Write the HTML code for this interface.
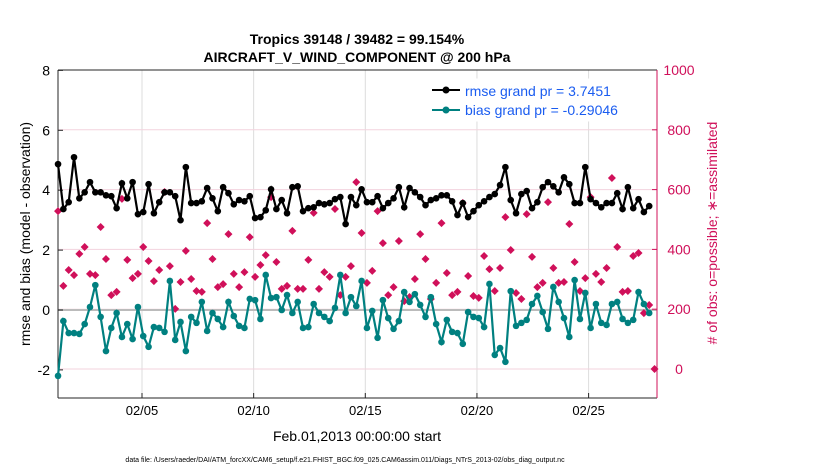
<!DOCTYPE html>
<html><head><meta charset="utf-8"><style>
body{margin:0;background:#fff;}
svg text{font-family:"Liberation Sans",sans-serif;}
</style></head><body>
<svg id="chart" width="830" height="470" viewBox="0 0 830 470" xmlns="http://www.w3.org/2000/svg">
<rect width="830" height="470" fill="#fff"/>
<text x="357" y="44" text-anchor="middle" font-size="14" font-weight="bold">Tropics 39148 / 39482 = 99.154%</text>
<text x="357" y="62" text-anchor="middle" font-size="14" font-weight="bold">AIRCRAFT_V_WIND_COMPONENT @ 200 hPa</text>
<g id="grid"></g><g id="axes"></g><g id="marks"></g>
<text x="357" y="441" text-anchor="middle" font-size="14">Feb.01,2013 00:00:00 start</text>
<text transform="translate(30,234) rotate(-90)" text-anchor="middle" font-size="14">rmse and bias (model - observation)</text>
<text transform="translate(717,233) rotate(-90)" text-anchor="middle" font-size="14" fill="#d0105a"># of obs: o=possible; ∗=assimilated</text>
<text x="345" y="462" text-anchor="middle" font-size="7">data file: /Users/raeder/DAI/ATM_forcXX/CAM6_setup/f.e21.FHIST_BGC.f09_025.CAM6assim.011/Diags_NTrS_2013-02/obs_diag_output.nc</text>
<g>
<rect x="426" y="79" width="220" height="42" fill="#fff" stroke="#fff"/>
<line x1="432" y1="90" x2="460" y2="90" stroke="#000" stroke-width="2"/><circle cx="446" cy="90" r="3.5" fill="#000"/>
<text x="465" y="96" font-size="14" fill="#1a5cf0">rmse grand pr = 3.7451</text>
<line x1="432" y1="110" x2="460" y2="110" stroke="#008080" stroke-width="2"/><circle cx="446" cy="110" r="3.5" fill="#008080"/>
<text x="465" y="115" font-size="14" fill="#1a5cf0">bias grand pr = -0.29046</text>
</g>
</svg>
<script>
const rmse=[4.87,3.37,3.6,5.1,3.73,3.93,4.27,3.93,3.93,3.83,3.8,3.4,4.23,3.73,4.27,3.2,3.27,4.2,3.23,3.6,3.93,3.93,3.8,3.0,4.77,3.57,3.57,3.63,4.07,3.73,3.3,4.1,3.9,3.53,3.67,3.63,3.8,3.07,3.1,
3.33,4.03,3.37,3.67,3.23,4.1,4.13,3.3,3.4,3.43,3.57,3.53,3.57,3.7,3.77,2.87,3.77,3.5,4.03,3.6,3.6,3.8,3.4,3.57,3.73,4.1,3.43,4.07,3.93,3.77,3.5,3.67,3.73,3.83,3.83,3.63,3.17,3.57,
3.1,3.3,3.5,3.63,3.77,3.87,4.17,4.77,3.67,3.23,3.87,3.97,3.4,3.6,4.1,4.27,4.13,3.93,4.43,4.2,3.57,3.57,4.77,3.7,3.57,3.43,3.57,3.57,3.9,3.37,4.1,3.4,3.7,3.27,3.47];
const bias=[-2.2,-0.37,-0.77,-0.77,-0.8,-0.47,0.1,0.83,-0.23,-1.37,-0.6,-0.1,-0.9,-0.47,-0.97,0.1,-0.87,-1.23,-0.57,-0.6,-0.73,0.97,-1.0,-0.4,-1.37,-0.23,-0.43,0.27,-0.7,-0.1,-0.3,-0.57,0.27,-0.2,-0.53,-0.6,0.37,0.33,-0.3,
1.17,0.4,0.43,0,0.5,-0.1,0.27,-0.6,-0.57,0.2,-0.1,-0.23,-0.37,0.07,1.17,-0.1,0.43,0.13,0.97,-0.6,-0.03,-0.93,0.33,-0.27,-0.63,-0.37,0.6,0.27,0.53,0.17,-0.23,0.43,-0.47,-1.07,-0.33,-0.73,-0.77,-1.13,
-0.07,-0.23,-0.27,-0.57,0.87,-1.5,-1.27,-1.73,0.63,-0.53,-0.43,-0.33,0.2,0.47,-0.07,-0.63,0.77,0.27,-0.27,-0.9,1.0,-0.3,0.57,-0.6,0.2,-0.43,-0.5,0.2,0.27,-0.3,-0.43,-0.33,0.6,0.2,-0.1];
const nobs=[528,278,331,314,385,408,318,314,475,368,247,258,569,365,304,318,408,361,294,331,592,344,201,291,395,301,261,258,488,368,274,284,451,318,274,324,441,308,348,
381,575,358,268,278,462,268,268,365,522,268,324,308,535,247,308,344,625,455,288,328,528,421,247,274,428,227,241,301,451,368,234,288,488,321,247,258,555,
311,244,238,378,334,261,338,508,398,254,234,518,375,274,288,558,338,288,291,485,358,261,304,575,318,291,338,639,408,258,261,378,388,187,214,0];
const leftTicks=[-2,0,2,4,6,8];
const rightTicks=[0,200,400,600,800,1000];
const dateTicks=[5,10,15,20,25];
const dateLabels=["02/05","02/10","02/15","02/20","02/25"];
const day0=1.24, dayStep=0.2385;

const X0=58,X1=657,Y0=70,Y1=398;
const xS=d=>142+(d-5)*22.33;
const yL=v=>310-v*29.95;
const yR=v=>369-v*0.299;
const NS="http://www.w3.org/2000/svg";
function mk(tag,attrs,parent){const e=document.createElementNS(NS,tag);for(const k in attrs)e.setAttribute(k,attrs[k]);parent.appendChild(e);return e;}
const grid=document.getElementById('grid'),axes=document.getElementById('axes'),marks=document.getElementById('marks');
mk('rect',{x:X0,y:Y0,width:X1-X0,height:Y1-Y0,fill:'#fff'},grid);
dateTicks.forEach((d,i)=>{
  const g=mk('line',{x1:xS(d),x2:xS(d),y1:Y0,y2:Y1,stroke:'#dcdcdc','stroke-width':1},grid);
  
  
  const t=mk('text',{x:xS(d),y:Y1+17,'text-anchor':'middle','font-size':13},axes);t.textContent=dateLabels[i];
  
  
  mk('line',{x1:xS(d),x2:xS(d),y1:Y1,y2:Y1-5,stroke:'#262626'},axes);
});
rightTicks.forEach(v=>{
  const g=mk('line',{x1:X0,x2:X1,y1:yR(v),y2:yR(v),stroke:'#f3d3de','stroke-width':1},grid);
  
  
  mk('line',{x1:X1,x2:X1-5,y1:yR(v),y2:yR(v),stroke:'#d0105a'},axes);
  const t=mk('text',{x:679,y:yR(v)+5,'font-size':14,fill:'#d0105a','text-anchor':'middle'},axes);t.textContent=v;
  
  
});
leftTicks.forEach(v=>{
  mk('line',{x1:X0,x2:X0+5,y1:yL(v),y2:yL(v),stroke:'#262626'},axes);
  const t=mk('text',{x:X0-8,y:yL(v)+5,'font-size':14,'text-anchor':'end'},axes);t.textContent=v;
  
  
});
const zl=mk('line',{x1:X0,x2:X1,y1:yL(0),y2:yL(0),stroke:'#bbb','stroke-width':2},grid);


mk('line',{x1:X0,x2:X0,y1:Y0,y2:Y1,stroke:'#262626'},axes);
mk('line',{x1:X0,x2:X1,y1:Y1,y2:Y1,stroke:'#262626'},axes);
mk('line',{x1:X0,x2:X1,y1:Y0,y2:Y0,stroke:'#262626'},axes);
mk('line',{x1:X1,x2:X1,y1:Y0,y2:Y1,stroke:'#d0105a'},axes);
nobs.forEach((v,i)=>{
  const x=xS(day0+i*dayStep),y=yR(v);
  const p=mk('path',{d:`M${x-4},${y}L${x},${y-4}L${x+4},${y}L${x},${y+4}Z`,fill:'#d0105a'},marks);
  
  
});
function series(arr,color,name){
  const pts=arr.map((v,i)=>xS(day0+i*dayStep).toFixed(1)+','+yL(v).toFixed(1)).join(' ');
  const pl=mk('polyline',{points:pts,fill:'none',stroke:color,'stroke-width':2.2},marks);
  
  
  arr.forEach((v,i)=>{
    const c=mk('circle',{cx:xS(day0+i*dayStep),cy:yL(v),r:3.3,fill:color},marks);
    
    
  });
}
series(rmse,'#000','rmse');
series(bias,'#008080','bias');
</script>
</body></html>
